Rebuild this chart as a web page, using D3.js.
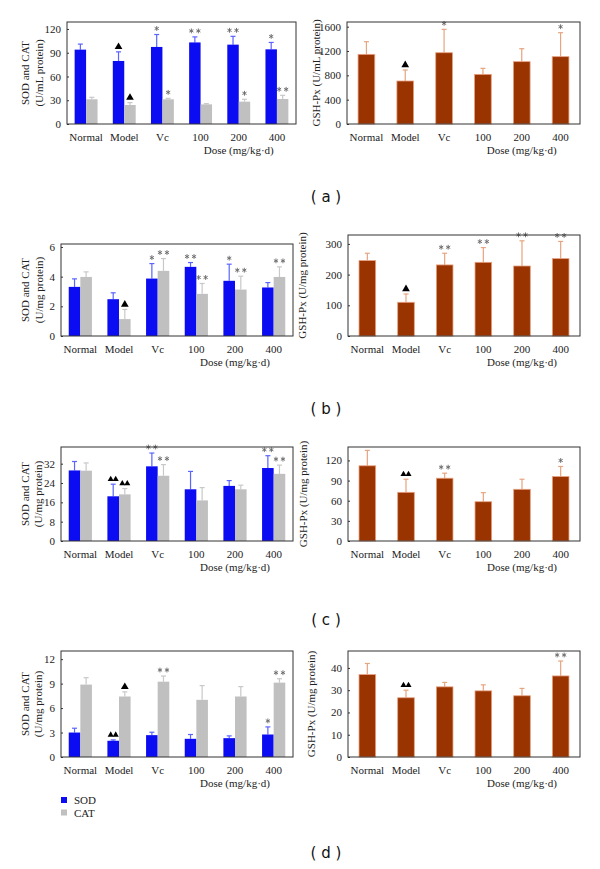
<!DOCTYPE html>
<html><head><meta charset="utf-8">
<script src="https://cdn.jsdelivr.net/npm/d3@7"></script>
<style>body{margin:0;background:#fff}svg{display:block}svg text{font-family:"Liberation Serif","Times New Roman",serif}</style>
</head><body>
<svg id="c" width="600" height="869"></svg>
<script>
const groups = ["Normal","Model","Vc","100","200","400"];

// (a)
const sodA = [93.9, 79.6, 97.3, 103, 100.2, 94.3];
const sodAsd = [7, 11.5, 15.7, 7, 10.5, 8.7];
const catA = [31.2, 24, 31.2, 24.8, 28.2, 31.6];
const catAsd = [2.5, 3, 1.2, 0.9, 3, 4.6];
const gshA = [1145, 707, 1172, 816, 1025, 1107];
const gshAsd = [208, 181, 384, 99, 213, 394];
const sodAmk = ["", "t", "*", "**", "**", "*"];
const catAmk = ["", "t", "*", "", "*", "**"];
const gshAmk = ["", "t", "*", "", "", "*"];
const ticksAL = [0, 30, 60, 90, 120];
const ticksAR = [0, 400, 800, 1200, 1600];

// (b)
const sodB = [3.31, 2.48, 3.87, 4.66, 3.72, 3.27];
const sodBsd = [0.54, 0.43, 1.01, 0.29, 1.12, 0.33];
const catB = [3.98, 1.14, 4.39, 2.84, 3.13, 3.98];
const catBsd = [0.34, 0.65, 0.83, 0.7, 0.9, 0.68];
const gshB = [245.6, 109.8, 231.5, 240, 228, 252];
const gshBsd = [24, 27, 38, 48, 82, 56];
const sodBmk = ["", "", "*", "**", "*", ""];
const catBmk = ["", "t", "**", "**", "**", "**"];
const gshBmk = ["", "t", "**", "**", "**", "**"];
const ticksBL = [0, 2, 4, 6];
const ticksBR = [0, 100, 200, 300];

// (c)
const sodC = [29.2, 18.5, 30.9, 21.4, 22.8, 30.2];
const sodCsd = [3.7, 5, 5.5, 7.4, 2.2, 5.1];
const catC = [29.1, 19.3, 27, 16.8, 21.4, 27.8];
const catCsd = [3.2, 2.4, 4.6, 5.3, 1.7, 3.6];
const gshC = [112, 72.5, 93.5, 58.5, 77, 96];
const gshCsd = [23, 19.5, 7.5, 13.5, 15, 15];
const sodCmk = ["", "tt", "**", "", "", "**"];
const catCmk = ["", "tt", "**", "", "", "**"];
const gshCmk = ["", "tt", "**", "", "", "*"];
const ticksCL = [0, 8, 16, 24, 32];
const ticksCR = [0, 30, 60, 90, 120];

// (d)
const sodD = [3.0, 1.99, 2.68, 2.23, 2.31, 2.76];
const sodDsd = [0.53, 0.11, 0.36, 0.53, 0.28, 0.93];
const catD = [8.88, 7.42, 9.24, 7.01, 7.42, 9.12];
const catDsd = [0.85, 0.57, 0.69, 1.75, 1.21, 0.48];
const gshD = [37, 26.6, 31.5, 29.7, 27.5, 36.4];
const gshDsd = [5, 3.4, 2, 2.7, 3.3, 6.7];
const sodDmk = ["", "tt", "", "", "", "*"];
const catDmk = ["", "t", "**", "", "", "**"];
const gshDmk = ["", "tt", "", "", "", "**"];
const ticksDL = [0, 3, 6, 9, 12];
const ticksDR = [0, 10, 20, 30, 40];

const panelLabels = ["( a )", "( b )", "( c )", "( d )"];
const legendNames = ["SOD", "CAT"];
const xTitle = "Dose (mg/kg\u00B7d)";

const COL = {sod:"#0c0cf2", sodErr:"#5a64ff", cat:"#c0c0c0", catErr:"#c8c8c8",
             gsh:"#993300", gshErr:"#e6a47f", gshEdge:"#e8a080", mark:"#666", tri:"#000"};
const SERIF = "\"Liberation Serif\", \"Times New Roman\", serif";

const svg = d3.select("#c");

function frameAxes(g, x0, x1, y0, y1, y, ticks, ylab, ylabX, band) {
  g.append("g").attr("transform", `translate(${x0},0)`)
    .call(d3.axisLeft(y).tickValues(ticks).tickSize(-2).tickPadding(6).tickFormat(d3.format("d")))
    .attr("font-family", null)
    .call(a => a.select(".domain").remove())
    .call(a => a.selectAll("text").style("font-family", SERIF).attr("font-size", 11).attr("fill", "#222"))
    .call(a => a.selectAll("line").attr("stroke", "#333"));
  g.append("g").attr("transform", `translate(0,${y1})`)
    .call(d3.axisBottom(band).tickSize(0).tickPadding(9))
    .attr("font-family", null)
    .call(a => a.select(".domain").remove())
    .call(a => a.selectAll("text").style("font-family", SERIF).attr("font-size", 11).attr("fill", "#222"));
  g.append("rect").attr("x", x0).attr("y", y0).attr("width", x1 - x0).attr("height", y1 - y0)
    .attr("fill", "none").attr("stroke", "#333").attr("stroke-width", 1);
  g.append("text").attr("x", band("200") + band.bandwidth() / 2).attr("y", y1 + 30)
    .attr("text-anchor", "middle").style("font-family", SERIF).attr("font-size", 11).attr("fill", "#222")
    .text(xTitle);
  const cy = (y0 + y1) / 2;
  ylab.forEach((line, i) => {
    g.append("text").attr("transform", `translate(${ylabX[i]},${cy}) rotate(-90)`)
      .attr("text-anchor", "middle").attr("dominant-baseline", "central")
      .style("font-family", SERIF).attr("font-size", 11).attr("fill", "#222").text(line);
  });
}

function marker(g, cx, ytop, m) {
  if (!m) return;
  const n = m.length;
  if (m[0] === "t") {
    const sz = n === 1 ? 26 : 16;
    const sp = n === 1 ? 0 : 5;
    for (let i = 0; i < n; i++) {
      g.append("path").attr("d", d3.symbol(d3.symbolTriangle, sz)())
        .attr("transform", `translate(${cx + (i - (n - 1) / 2) * sp},${ytop - 5})`)
        .attr("fill", COL.tri);
    }
  } else {
    const sp = n === 1 ? 0 : 7;
    for (let i = 0; i < n; i++) {
      g.append("path").attr("d", d3.symbol(d3.symbolAsterisk, 16)())
        .attr("transform", `translate(${cx + (i - (n - 1) / 2) * sp},${ytop - 6})`)
        .attr("fill", "none").attr("stroke", COL.mark).attr("stroke-width", 0.9);
    }
  }
}

function errBar(g, cx, yTop, yMean, col, cap) {
  g.append("line").attr("x1", cx).attr("x2", cx).attr("y1", yMean).attr("y2", yTop)
    .attr("stroke", col).attr("stroke-width", 1.2);
  g.append("line").attr("x1", cx - cap).attr("x2", cx + cap).attr("y1", yTop).attr("y2", yTop)
    .attr("stroke", col).attr("stroke-width", 1.2);
}

function pairChart(box, sod, sodSd, cat, catSd, sodMk, catMk, ticks, ymax, ylab, ylabX) {
  const [x0, x1, y0, y1] = box;
  const g = svg.append("g");
  const band = d3.scaleBand().domain(groups).range([x0, x1]);
  const y = d3.scaleLinear().domain([0, ymax]).range([y1, y0]);
  const w = band.bandwidth() * 0.3;
  groups.forEach((k, i) => {
    const c = band(k) + band.bandwidth() / 2;
    const sx = c - w;
    errBar(g, sx + w / 2, y(sod[i] + sodSd[i]), y(sod[i]), COL.sodErr, 2.5);
    g.append("rect").attr("x", sx).attr("y", y(sod[i])).attr("width", w).attr("height", y(0) - y(sod[i])).attr("fill", COL.sod);
    marker(g, sx + w / 2, y(sod[i] + sodSd[i]), sodMk[i]);
    errBar(g, c + w / 2, y(cat[i] + catSd[i]), y(cat[i]), COL.catErr, 2.5);
    g.append("rect").attr("x", c).attr("y", y(cat[i])).attr("width", w).attr("height", y(0) - y(cat[i])).attr("fill", COL.cat);
    marker(g, c + w / 2, y(cat[i] + catSd[i]), catMk[i]);
  });
  frameAxes(g, x0, x1, y0, y1, y, ticks, ylab, ylabX, band);
}

function gshChart(box, vals, sd, mk, ticks, ymax, ylab, ylabX) {
  const [x0, x1, y0, y1] = box;
  const g = svg.append("g");
  const band = d3.scaleBand().domain(groups).range([x0, x1]);
  const y = d3.scaleLinear().domain([0, ymax]).range([y1, y0]);
  const w = band.bandwidth() * 0.43;
  groups.forEach((k, i) => {
    const c = band(k) + band.bandwidth() / 2;
    errBar(g, c, y(vals[i] + sd[i]), y(vals[i]), COL.gshErr, 2.5);
    g.append("rect").attr("x", c - w / 2).attr("y", y(vals[i])).attr("width", w).attr("height", y(0) - y(vals[i]))
      .attr("fill", COL.gsh).attr("stroke", COL.gshEdge).attr("stroke-width", 0.8);
    marker(g, c, y(vals[i] + sd[i]), mk[i]);
  });
  frameAxes(g, x0, x1, y0, y1, y, ticks, ylab, ylabX, band);
}

pairChart([67, 296, 22, 124], sodA, sodAsd, catA, catAsd, sodAmk, catAmk, ticksAL, 128.8,
  ["SOD and CAT", "(U/mL protein)"], [25, 39]);
gshChart([347, 580, 22, 124], gshA, gshAsd, gshAmk, ticksAR, 1677, ["GSH-Px (U/mL protein)"], [316]);

pairChart([61, 293, 244, 336], sodB, sodBsd, catB, catBsd, sodBmk, catBmk, ticksBL, 6.2,
  ["SOD and CAT", "(U/mg protein)"], [25, 39]);
gshChart([348, 580, 235, 336], gshB, gshBsd, gshBmk, ticksBR, 329, ["GSH-Px (U/mg protein)"], [302]);

pairChart([61, 293, 447, 541], sodC, sodCsd, catC, catCsd, sodCmk, catCmk, ticksCL, 38.9,
  ["SOD and CAT", "(U/mg protein)"], [25, 38]);
gshChart([348, 580, 447, 541], gshC, gshCsd, gshCmk, ticksCR, 140, ["GSH-Px (U/mg protein)"], [303]);

pairChart([61, 293, 651, 757], sodD, sodDsd, catD, catDsd, sodDmk, catDmk, ticksDL, 13,
  ["SOD and CAT", "(U/mg protein)"], [25, 38]);
gshChart([348, 580, 651, 757], gshD, gshDsd, gshDmk, ticksDR, 47.6, ["GSH-Px (U/mg protein)"], [311]);

const lg = svg.append("g");
legendNames.forEach((n, i) => {
  lg.append("rect").attr("x", 61).attr("y", 797 + i * 12.5).attr("width", 6).attr("height", 6)
    .attr("fill", i === 0 ? COL.sod : COL.cat);
  lg.append("text").attr("x", 74).attr("y", 804 + i * 12.5).style("font-family", SERIF)
    .attr("font-size", 11).attr("fill", "#222").text(n);
});

[202, 414, 625, 858].forEach((yy, i) => {
  svg.append("text").attr("x", 326).attr("y", yy).attr("text-anchor", "middle")
    .style("font-family", "\"DejaVu Sans\", sans-serif").attr("font-size", 15).attr("fill", "#111")
    .style("white-space", "pre").text(panelLabels[i]);
});
</script>
</body></html>
